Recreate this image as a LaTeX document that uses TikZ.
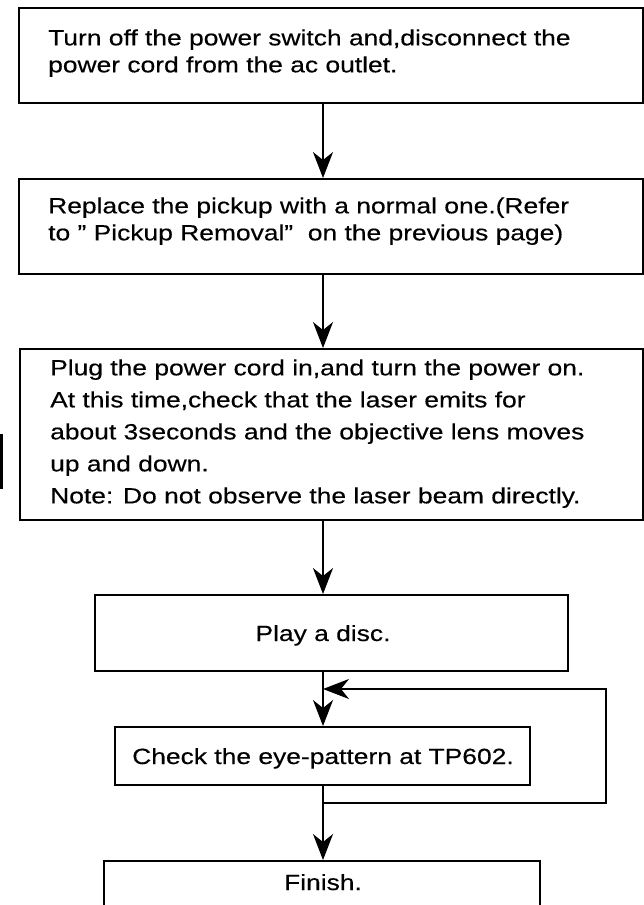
\documentclass[tikz,border=0pt]{standalone}
\usepackage{fontspec}
\setmainfont{Liberation Sans}[FakeStretch=1.2,FakeBold=0.35]
\usetikzlibrary{arrows.meta}
\begin{document}
\begin{tikzpicture}[x=1pt,y=-1pt,
  box/.style={draw, rectangle, line width=1.9pt, inner sep=0pt},
  txt/.style={inner sep=0pt, align=left, anchor=north west, font={\fontsize{22}{27}\selectfont}},
  txtwide/.style={txt, font={\fontsize{22}{32}\selectfont}},
  lbl/.style={inner sep=0pt, anchor=base, font={\fontsize{22}{26}\selectfont}},
  conn/.style={line width=1.7pt, -{Stealth[length=26pt, width=20pt, inset=8pt]}}
]
\useasboundingbox (0,0) rectangle (644,905);
\fill[white] (0,0) rectangle (644,905);

% boxes
\node[box, minimum width=624pt, minimum height=95pt] (b1) at (331,55.5) {};
\node[box, minimum width=624pt, minimum height=95pt] (b2) at (331,226.5) {};
\node[box, minimum width=623pt, minimum height=171pt] (b3) at (331.5,434.5) {};
\node[box, minimum width=473pt, minimum height=76pt] (b4) at (331.5,633) {};
\node[box, minimum width=415pt, minimum height=58pt] (b5) at (322.5,756) {};
\node[box, minimum width=436pt, minimum height=79pt] (b6) at (322,900.5) {};

% texts
\node[txt] (t1) at (48,29.2) {Turn off the power switch and,disconnect the\\power cord from the ac outlet.};
\node[txt] (t2) at (48,197.2) {Replace the pickup with a normal one.(Refer\\to~”~Pickup Removal”~~on the previous page)};
\node[txtwide] (t3) at (50,359.2) {Plug the power cord in,and turn the power on.\\At this time,check that the laser emits for\\about 3seconds and the objective lens moves\\up and down.\\Note: Do not observe the laser beam directly.};
\node[lbl] (t4) at (323,641) {Play a disc.};
\node[lbl] (t5) at (323,764) {Check the eye-pattern at TP602.};
\node[lbl] (t6) at (323,890) {Finish.};

% main axis and loop points
\coordinate (m) at (323,0);
\coordinate (br) at (323,803);
\coordinate (lr) at (606,803);
\coordinate (jn) at (323,689);

\draw[conn] (b1.south -| m) -- (b2.north -| m);
\draw[conn] (b2.south -| m) -- (b3.north -| m);
\draw[conn] (b3.south -| m) -- (b4.north -| m);
\draw[conn] (b4.south -| m) -- (b5.north -| m);
\draw[conn] (b5.south -| m) -- (b6.north -| m);
\draw[conn] (br) -- (lr) |- (jn);

% stray mark at left edge
\coordinate (s1) at (1.3,434);
\coordinate (s2) at (1.3,489);
\draw[line width=2.4pt] (s1) -- (s2);
\end{tikzpicture}
\end{document}
